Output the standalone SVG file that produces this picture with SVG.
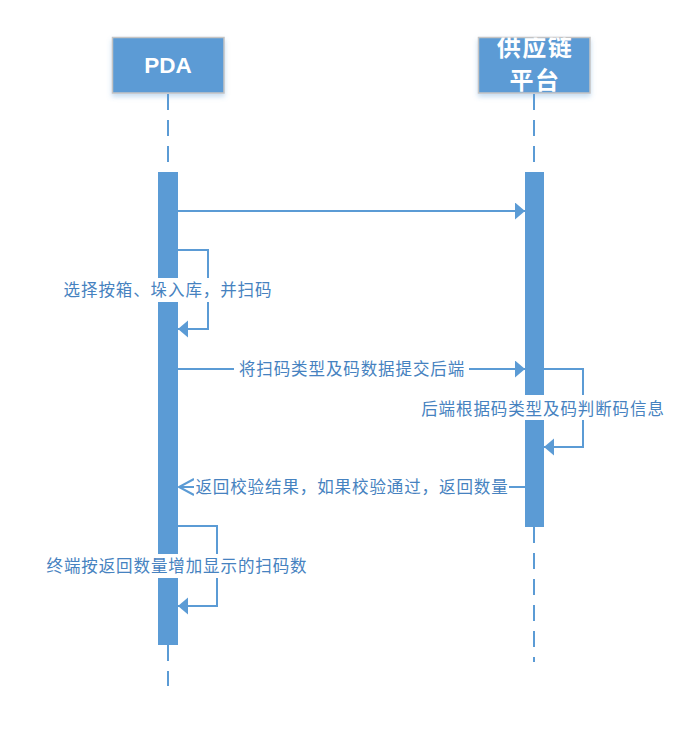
<svg xmlns="http://www.w3.org/2000/svg" width="698" height="756" viewBox="0 0 698 756">
  <style>
    .head { fill: #5B9BD5; stroke: #C4C4C4; stroke-width: 1.5; }
    .htxt { fill: #FFFFFF; font-family: "Liberation Sans", "Noto Sans CJK SC", sans-serif; font-weight: bold; text-anchor: middle; }
    .life { stroke: #5B9BD5; stroke-width: 2; stroke-dasharray: 16 10; fill: none; }
    .bar { fill: #5B9BD5; }
    .msg { stroke: #5B9BD5; stroke-width: 2; fill: none; }
    .lblbg { fill: #FFFFFF; }
    .lbl { fill: #4682C0; font-family: "Noto Sans CJK SC", "Noto Sans", sans-serif; font-size: 16.5px; letter-spacing: 0.9px; text-anchor: middle; }
  </style>
  <defs>
    <filter id="shadow" x="-20%" y="-20%" width="140%" height="160%">
      <feDropShadow dx="0" dy="3" stdDeviation="2.5" flood-color="#5B9BD5" flood-opacity="0.35"/>
    </filter>
    <marker id="filled" markerUnits="userSpaceOnUse" markerWidth="12" markerHeight="18" refX="10" refY="8.5" orient="auto">
      <path d="M0,0 L10,8.5 L0,17 Z" fill="#5B9BD5"/>
    </marker>
    <marker id="open" markerUnits="userSpaceOnUse" markerWidth="18" markerHeight="20" refX="15" refY="9" orient="auto">
      <path d="M0,1 L15,9 L0,17" fill="none" stroke="#5B9BD5" stroke-width="2"/>
    </marker>
  </defs>
  <rect width="698" height="756" fill="#FFFFFF"/>

  <g id="node-pda">
    <rect class="head" x="112.5" y="37.5" width="111.5" height="55.5" filter="url(#shadow)"/>
    <text class="htxt" x="168" y="73" font-size="22.5">PDA</text>
    <line class="life" x1="168" y1="94" x2="168" y2="172"/>
    <line class="life" x1="168" y1="645" x2="168" y2="686" stroke-dasharray="15 11"/>
    <rect class="bar" x="158" y="172" width="20" height="473"/>
  </g>

  <g id="node-platform">
    <rect class="head" x="478.5" y="37.5" width="111.5" height="55.5" filter="url(#shadow)"/>
    <svg x="478.5" y="37.5" width="111.5" height="55.5" overflow="hidden">
      <text class="htxt" x="56.5" y="18" font-size="24" letter-spacing="1.5" font-family="'Noto Sans CJK SC', sans-serif">供应链</text>
      <text class="htxt" x="56.5" y="51" font-size="24" letter-spacing="1.5" font-family="'Noto Sans CJK SC', sans-serif">平台</text>
    </svg>
    <line class="life" x1="534" y1="94" x2="534" y2="172"/>
    <line class="life" x1="534" y1="527" x2="534" y2="662" stroke-dasharray="0 12 16 10"/>
    <rect class="bar" x="525" y="172" width="19" height="355"/>
  </g>

  <g id="connectors">
    <line class="msg" x1="178" y1="211" x2="525" y2="211" marker-end="url(#filled)"/>
    <polyline class="msg" points="178,250 208,250 208,329 178,329" marker-end="url(#filled)"/>
    <line class="msg" x1="178" y1="369" x2="525" y2="369" marker-end="url(#filled)"/>
    <polyline class="msg" points="544,369 583,369 583,447 544,447" marker-end="url(#filled)"/>
    <line class="msg" x1="525" y1="487" x2="179" y2="487" marker-end="url(#open)"/>
    <polyline class="msg" points="178,526 217,526 217,606 178,606" marker-end="url(#filled)"/>

    <rect class="lblbg" x="60" y="278" width="216" height="24"/>
    <text class="lbl" x="168" y="296">选择按箱、垛入库，并扫码</text>

    <rect class="lblbg" x="234" y="358" width="235" height="22"/>
    <text class="lbl" x="352" y="375">将扫码类型及码数据提交后端</text>

    <rect class="lblbg" x="418" y="395" width="249" height="25"/>
    <text class="lbl" x="543" y="415">后端根据码类型及码判断码信息</text>

    <rect class="lblbg" x="194" y="476" width="315" height="22"/>
    <text class="lbl" x="352" y="493">返回校验结果，如果校验通过，返回数量</text>

    <rect class="lblbg" x="44" y="554" width="266" height="24"/>
    <text class="lbl" x="177" y="572">终端按返回数量增加显示的扫码数</text>
  </g>
</svg>
